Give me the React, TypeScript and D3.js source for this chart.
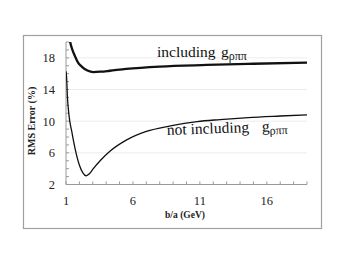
import * as React from "react";
import * as d3 from "d3";

const bIncl = [1.25, 1.3, 1.5, 1.67, 1.9, 2.17, 2.6, 3.04, 3.6, 4.28, 5.5, 8, 11.5, 15, 19];
const rmsIncl = [20.6, 20.1, 18.9, 18.2, 17.4, 16.9, 16.4, 16.2, 16.25, 16.37, 16.6, 16.9, 17.1, 17.25, 17.4];
const bNotIncl = [1.0, 1.05, 1.1, 1.22, 1.43, 1.67, 1.99, 2.25, 2.5, 2.75, 3.04, 3.6, 4.28, 5.5, 7, 8.8, 10.8, 12.5, 14.6, 17, 19];
const rmsNotIncl = [16.3, 15.4, 13.3, 10.8, 8.7, 6.6, 4.5, 3.5, 3.1, 3.35, 4.0, 5.1, 6.2, 7.6, 8.7, 9.4, 9.95, 10.2, 10.45, 10.65, 10.8];
const xTicks = [1, 6, 11, 16];
const yTicks = [2, 6, 10, 14, 18];

const W = 346;
const H = 256;
const left = 66;
const right = 307;
const top = 42;
const bottom = 184.5;

const serif = "'Liberation Serif', 'Times New Roman', 'DejaVu Serif', serif";

export default function App() {
  const x = d3.scaleLinear().domain([1, 19]).range([left, right]);
  const y = d3.scaleLinear().domain([2, 20]).range([bottom, top]);

  const line = d3
    .line<number>()
    .x((d) => x(d))
    .curve(d3.curveMonotoneX);

  const inclPath = line.y((d, i) => y(rmsIncl[i]))(bIncl) || "";
  const notPath = line.y((d, i) => y(rmsNotIncl[i]))(bNotIncl) || "";

  const minorX = d3.range(1, 20, 1);
  const minorY = d3.range(2, 21, 1);

  return (
    <svg
      width={W}
      height={H}
      style={{ position: "absolute", left: 0, top: 0, background: "#fff", fontFamily: serif }}
    >
      <defs>
        <clipPath id="plot">
          <rect x={left} y={top} width={right - left} height={bottom - top} />
        </clipPath>
      </defs>
      <rect x={23.5} y={35.5} width={298} height={193} fill="none" stroke="#a0a0a0" strokeWidth={1.2} />

      {/* grid */}
      {yTicks.slice(1).map((t) => (
        <line key={t} x1={left} x2={right} y1={y(t)} y2={y(t)} stroke="#ececec" strokeWidth={1} />
      ))}

      {/* axes */}
      <line x1={left} x2={left} y1={top} y2={bottom} stroke="#999" strokeWidth={1} />
      <line x1={left} x2={right} y1={bottom} y2={bottom} stroke="#999" strokeWidth={1} />
      {minorX.map((t) => (
        <line key={"mx" + t} x1={x(t)} x2={x(t)} y1={bottom} y2={bottom - 3} stroke="#999" strokeWidth={1} />
      ))}
      {minorY.map((t) => (
        <line key={"my" + t} x1={left} x2={left + 3} y1={y(t)} y2={y(t)} stroke="#999" strokeWidth={1} />
      ))}

      {yTicks.map((t) => (
        <text key={"yl" + t} x={55} y={y(t)} dy="0.35em" textAnchor="end" fontSize={12.5} fill="#222">
          {t}
        </text>
      ))}
      {xTicks.map((t) => (
        <text key={"xl" + t} x={x(t)} y={205} textAnchor="middle" fontSize={12.5} fill="#222">
          {t}
        </text>
      ))}

      <text x={185} y={218} textAnchor="middle" fontSize={9.5} fontWeight="bold" fill="#222">
        b/a  (GeV)
      </text>
      <text
        transform={`translate(35,121) rotate(-90)`}
        textAnchor="middle"
        fontSize={10}
        fontWeight="bold"
        fill="#222"
      >
        RMS Error (%)
      </text>

      <g clipPath="url(#plot)">
        <path d={inclPath} fill="none" stroke="#111" strokeWidth={2.3} />
        <path d={notPath} fill="none" stroke="#111" strokeWidth={1.3} />
      </g>

      <text y={57} fontSize={15.5} fill="#111">
        <tspan x={157}>including</tspan>
        <tspan x={221}>g</tspan>
        <tspan dy={3} fontSize={12}>ρππ</tspan>
      </text>
      <text y={135} fontSize={15.5} fill="#111" transform="rotate(-2,167,135)">
        <tspan x={167}>not including</tspan>
        <tspan x={262}>g</tspan>
        <tspan dy={3} fontSize={12}>ρππ</tspan>
      </text>
    </svg>
  );
}
